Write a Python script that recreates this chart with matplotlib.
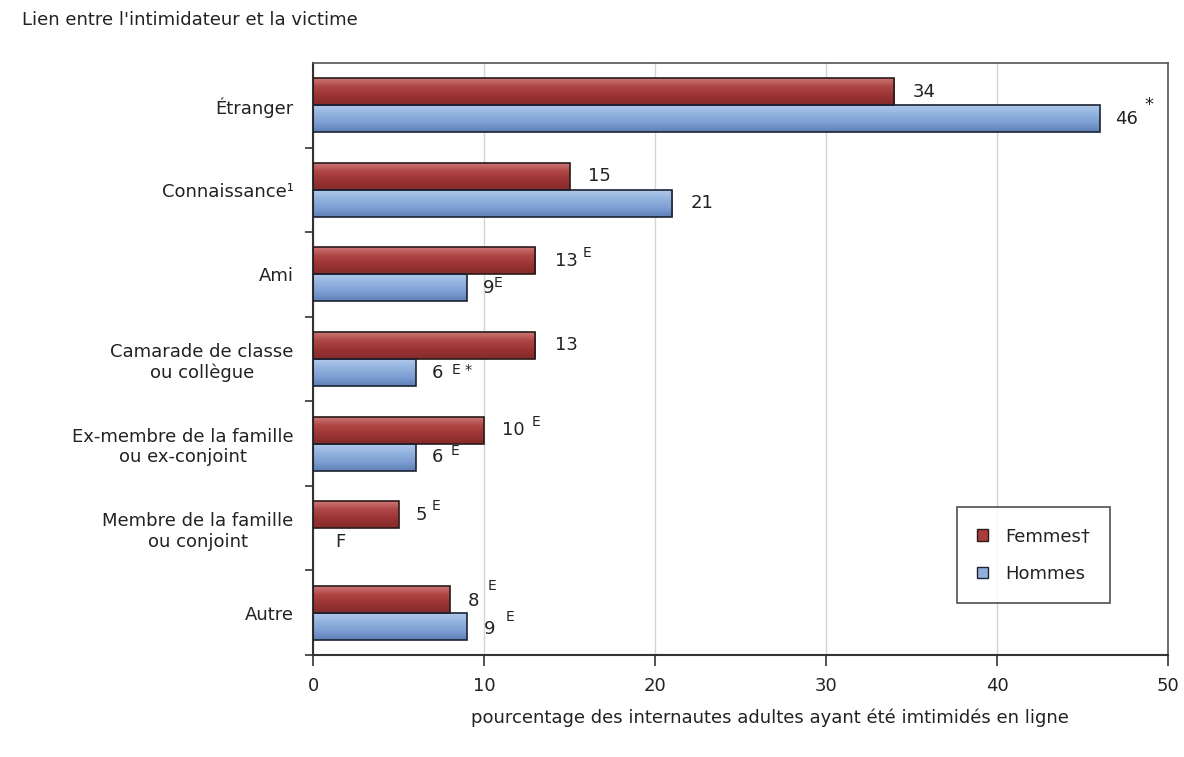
import numpy as np
import matplotlib.pyplot as plt
from matplotlib.colors import LinearSegmentedColormap
from matplotlib.patches import Patch

categories = ["Étranger", "Connaissance¹", "Ami", "Camarade de classe\nou collègue",
              "Ex-membre de la famille\nou ex-conjoint", "Membre de la famille\nou conjoint",
              "Autre"]
femmes = [34, 15, 13, 13, 10, 5, 8]
hommes = [46, 21, 9, 6, 6, 0, 9]
femmes_notes = ["", "", "E", "", "E", "E", "E"]
hommes_notes = ["*", "", "E", "E *", "E", "", "E"]
hommes_text = ["46", "21", "9", "6", "6", "F", "9"]

plt.rcParams['font.family'] = ['DejaVu Sans']
txt = '#222222'
fs = 13
fs_note = 10

fig = plt.figure(figsize=(11.84, 7.57), dpi=100)
ax = fig.add_axes([0.2644, 0.1347, 0.7221, 0.7821])

y = np.arange(len(categories))
h = 0.32

red_cmap = LinearSegmentedColormap.from_list('r', ['#d07c7c', '#b04646', '#9a3333', '#852a2a'])
blue_cmap = LinearSegmentedColormap.from_list('b', ['#b3cbec', '#94b4df', '#7d9fd2', '#5e80b8'])
grad = np.linspace(0, 1, 64).reshape(-1, 1)

bars_f = ax.barh(y - h / 2, femmes, height=h, facecolor='none', edgecolor='#2a1a1a',
                 linewidth=1.2, zorder=3)
bars_h = ax.barh(y + h / 2, hommes, height=h, facecolor='none', edgecolor='#1c2333',
                 linewidth=1.2, zorder=3)

# gradient fill clipped to each bar
for bars, cmap in [(bars_f, red_cmap), (bars_h, blue_cmap)]:
    for b in bars:
        if b.get_width() <= 0:
            b.set_visible(False)
            continue
        x0, y0 = b.get_x(), b.get_y()
        im = ax.imshow(grad, cmap=cmap, aspect='auto', origin='upper',
                       extent=(x0, x0 + b.get_width(), y0 + b.get_height(), y0),
                       zorder=2.5, interpolation='bilinear')
        im.set_clip_path(b)

ax.set_xlim(0, 50)
ax.set_ylim(len(categories) - 0.5, -0.5)

# label offsets in points: (value dx, value dy, note dx, note dy)
f_pos = [(13.5, 0, 0, 0), (13, 0, 0, 0), (14, 0, 34, 6), (14, 0, 0, 0),
         (13, 0, 34, 6), (12, 0, 24, 6), (13, -1.5, 27, 9.5)]
h_pos = [(11, 0, 32, 10), (13, 0, 0, 0), (11.5, 0, 19, 3.5), (11.5, 0, 26, 1.5),
         (11.5, 0, 25, 4.5), (0, 0, 0, 0), (12, -2, 28, 7)]

for i, (v, note) in enumerate(zip(femmes, femmes_notes)):
    dx, dy, nx, ny = f_pos[i]
    ax.annotate(str(v), (v, i - h / 2), xytext=(dx, dy), textcoords='offset points',
                va='center', ha='left', fontsize=fs, color=txt)
    if note:
        ax.annotate(note, (v, i - h / 2), xytext=(nx, ny), textcoords='offset points',
                    va='center', ha='left', fontsize=fs_note, color=txt)

for i, (v, t, note) in enumerate(zip(hommes, hommes_text, hommes_notes)):
    if t == "F":
        ax.annotate(t, (1.3, i + h / 2), xytext=(0, 0), textcoords='offset points',
                    va='center', ha='left', fontsize=fs, color=txt)
        continue
    dx, dy, nx, ny = h_pos[i]
    ax.annotate(t, (v, i + h / 2), xytext=(dx, dy), textcoords='offset points',
                va='center', ha='left', fontsize=fs, color=txt)
    if note:
        ax.annotate(note, (v, i + h / 2), xytext=(nx, ny), textcoords='offset points',
                    va='center', ha='left', fontsize=fs if note == "*" else fs_note,
                    color=txt)

# axes styling
ax.set_yticks(y)
ax.set_yticklabels(categories, fontsize=fs, color=txt, multialignment='center')
ax.set_yticks(np.arange(0.5, len(categories), 1), minor=True)
ax.tick_params(axis='y', which='major', length=0, pad=14)
ax.tick_params(axis='y', which='minor', length=6, width=1.2, color='#333333', direction='out')
ax.set_xticks(np.arange(0, 51, 10))
ax.tick_params(axis='x', length=8, width=1.2, color='#333333', labelsize=fs,
               labelcolor=txt, pad=8)
ax.grid(axis='x', color='#d4d4d4', linewidth=1, zorder=0)
ax.set_axisbelow(True)
for s in ['left', 'bottom']:
    ax.spines[s].set_color('#333333')
    ax.spines[s].set_linewidth(1.5)
for s in ['top', 'right']:
    ax.spines[s].set_color('#555555')
    ax.spines[s].set_linewidth(1.2)

handles = [Patch(facecolor='#a83c3c', edgecolor='#2a1a1a'),
           Patch(facecolor='#90afdb', edgecolor='#1c2333')]
leg = ax.legend(handles, ['Femmes†', 'Hommes'], loc='lower left',
                bbox_to_anchor=(0.753, 0.088), fontsize=fs, frameon=True, fancybox=False,
                edgecolor='#222222', handlelength=0.6, handleheight=0.6, labelspacing=1.1,
                borderpad=1.1, handletextpad=1.0, borderaxespad=0)
leg.get_frame().set_linewidth(1.2)
for t in leg.get_texts():
    t.set_color(txt)

fig.text(22 / 1184, 1 - 20 / 757, "Lien entre l'intimidateur et la victime",
         fontsize=fs, color=txt, va='center', ha='left')
fig.text(770 / 1184, 1 - 718 / 757,
         "pourcentage des internautes adultes ayant été imtimidés en ligne",
         fontsize=fs, color=txt, va='center', ha='center')

fig.savefig('out.png', dpi=100, facecolor='white')
